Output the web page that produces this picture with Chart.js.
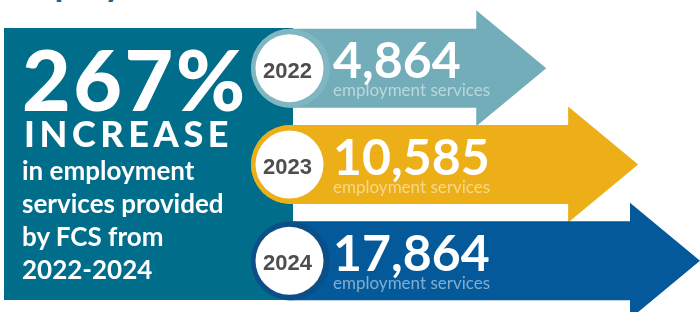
<!DOCTYPE html>
<html>
<head>
<meta charset="utf-8">
<script src="https://cdn.jsdelivr.net/npm/chart.js@4.4.1/dist/chart.umd.min.js"></script>
<style>
  body { margin: 0; background: #fff; }
  #wrap { position: relative; width: 700px; height: 312px; overflow: hidden; }
  #heading { position: absolute; left: 4px; top: -36px; font: 700 36px/36px Lato, sans-serif; color: #17668f; white-space: nowrap; }
  #panel { position: absolute; left: 4px; top: 28px; width: 289px; height: 272px; background: #006d8a; }
  #chart { position: absolute; left: 0; top: 0; }
  .txt { position: absolute; color: #fff; white-space: nowrap; font-family: Lato, sans-serif; }
  #big { left: 22px; top: 37px; font-weight: 900; font-size: 84px; line-height: 84px; letter-spacing: 2.5px; }
  #increase { left: 24px; top: 115px; font-weight: 900; font-size: 36px; line-height: 36px; letter-spacing: 4.6px; }
  #blurb { left: 22px; top: 154px; font-weight: 700; font-size: 26px; line-height: 33px; }
</style>
</head>
<body>
<div id="wrap">
  <div id="heading">Employment Services</div>
  <div id="panel"></div>
  <canvas id="chart" width="700" height="312"></canvas>
  <div class="txt" id="big">267%</div>
  <div class="txt" id="increase">INCREASE</div>
  <div class="txt" id="blurb">in employment<br>services provided<br>by FCS from<br>2022-2024</div>
</div>
<script>
// data
const years = ['2022', '2023', '2024']
const services = [4864, 10585, 17864]
const unitLabel = 'employment services'

// draws each bar as an arrow with a round cap holding the year
const arrowPlugin = {
	id: 'arrows',
	beforeDatasetDraw: function(chart, args){
		const ctx = chart.ctx
		const ds = chart.data.datasets[args.index]

		args.meta.data.forEach((bar, i) => {
			const {x, y, base, height} = bar.getProps(['x', 'y', 'base', 'height'], true)
			const r = height / 2
			const cx = base + r
			const neck = x - 70
			const headHalf = 58

			ctx.save()
			ctx.fillStyle = ds.backgroundColor[i]
			ctx.beginPath()
			ctx.moveTo(cx, y - r)
			ctx.lineTo(neck, y - r)
			ctx.lineTo(neck, y - headHalf)
			ctx.lineTo(x, y)
			ctx.lineTo(neck, y + headHalf)
			ctx.lineTo(neck, y + r)
			ctx.lineTo(cx, y + r)
			ctx.arc(cx, y, r, Math.PI / 2, Math.PI * 1.5)
			ctx.closePath()
			ctx.fill()

			// ring + white disc
			ctx.fillStyle = ds.ringColor[i]
			ctx.beginPath()
			ctx.arc(cx, y, r, 0, Math.PI * 2)
			ctx.fill()
			ctx.fillStyle = '#ffffff'
			ctx.beginPath()
			ctx.arc(cx - 1, y, r - 5.5, 0, Math.PI * 2)
			ctx.fill()

			// year
			ctx.fillStyle = '#4d4d4d'
			ctx.font = 'bold 22px "Liberation Sans", Arial, sans-serif'
			ctx.textAlign = 'center'
			ctx.textBaseline = 'alphabetic'
			ctx.fillText(chart.data.labels[i], cx - 3, y + 9.5)

			// value + unit
			const tx = base + height + 3
			ctx.textAlign = 'left'
			ctx.fillStyle = '#ffffff'
			ctx.font = 'bold 50px Lato, sans-serif'
			ctx.fillText(ds.data[i].toLocaleString('en-US'), tx, y + 10)
			ctx.fillStyle = 'rgba(255,255,255,0.5)'
			ctx.font = '17px Lato, sans-serif'
			ctx.fillText(unitLabel, tx, y + 28)
			ctx.restore()
		})
		return false
	}
}

new Chart(document.getElementById('chart'), {
	type: 'bar',
	data: {
		labels: years,
		datasets: [{
			data: services,
			backgroundColor: ['#72adb9', '#edaf18', '#03599a'],
			ringColor: ['#80b6c1', '#edaf18', '#0b4f88'],
			barThickness: 79
		}]
	},
	options: {
		indexAxis: 'y',
		responsive: false,
		animation: false,
		layout: { padding: { left: 251, right: 0, top: 20, bottom: 3 } },
		scales: {
			x: { type: 'logarithmic', min: 400, max: Math.max(...services), bounds: 'data', display: false },
			y: { display: false }
		},
		plugins: { legend: { display: false }, tooltip: { enabled: false } }
	},
	plugins: [arrowPlugin]
})
</script>
</body>
</html>
